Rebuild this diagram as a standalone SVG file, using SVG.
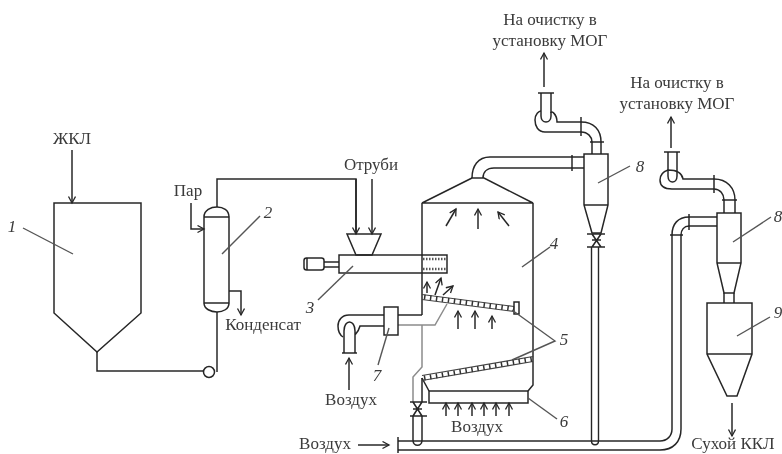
<svg xmlns="http://www.w3.org/2000/svg" width="782" height="454" viewBox="0 0 782 454">
<style>
.l{fill:none;stroke:#262626;stroke-width:1.5;stroke-linejoin:miter}
.g{fill:none;stroke:#8c8c8c;stroke-width:1.5}
.a{fill:none;stroke:#262626;stroke-width:1.5}
.f{fill:none;stroke:#444;stroke-width:1.2}
.m{fill:none;stroke:#555;stroke-width:1.4}
.t{font-family:"Liberation Serif",serif;font-size:17px;fill:#3a3a3a;text-anchor:middle}
.n{font-family:"Liberation Serif",serif;font-size:17px;font-style:italic;fill:#3a3a3a;text-anchor:middle}
.tick{fill:none;stroke:#333;stroke-width:5;stroke-dasharray:1.5 4.5}
</style>
<defs>
<marker id="ah" markerWidth="10" markerHeight="10" refX="7.5" refY="4" orient="auto" markerUnits="userSpaceOnUse"><path d="M1,0.5L7.5,4L1,7.5" fill="none" stroke="#262626" stroke-width="1.3"/></marker>
<filter id="b" x="0" y="0" width="100%" height="100%"><feGaussianBlur stdDeviation="0.55"/></filter>
</defs>
<rect width="782" height="454" fill="#fff"/>
<g filter="url(#b)">
<g id="connectors">
<path class="a" marker-end="url(#ah)" d="M72,150V203"/>
<path class="l" d="M97,352V371H203"/>
<path class="l" d="M217,372V312"/>
<path class="l" d="M217,207V179H356V234"/>
<path class="a" marker-end="url(#ah)" d="M356,179V234"/>
<path class="a" marker-end="url(#ah)" d="M372,179V234"/>
<path class="a" marker-end="url(#ah)" d="M191,203V229H204"/>
<path class="a" marker-end="url(#ah)" d="M229,291H241V315"/>
<path class="a" marker-end="url(#ah)" d="M446,226L456,209"/>
<path class="a" marker-end="url(#ah)" d="M478,229V209"/>
<path class="a" marker-end="url(#ah)" d="M509,226L498,212"/>
<path class="a" marker-end="url(#ah)" d="M427,293V282"/>
<path class="a" marker-end="url(#ah)" d="M435,295L441,278"/>
<path class="a" marker-end="url(#ah)" d="M443,295L453,286"/>
<path class="a" marker-end="url(#ah)" d="M458,329V311"/>
<path class="a" marker-end="url(#ah)" d="M475,329V311"/>
<path class="a" marker-end="url(#ah)" d="M492,329V316"/>
<path class="a" marker-end="url(#ah)" d="M446,416V403"/>
<path class="a" marker-end="url(#ah)" d="M458,416V403"/>
<path class="a" marker-end="url(#ah)" d="M472,416V403"/>
<path class="a" marker-end="url(#ah)" d="M484,416V403"/>
<path class="a" marker-end="url(#ah)" d="M496,416V403"/>
<path class="a" marker-end="url(#ah)" d="M509,416V403"/>
<path class="a" marker-end="url(#ah)" d="M349,390V358"/>
<path class="a" marker-end="url(#ah)" d="M358,445H389"/>
<path class="a" marker-end="url(#ah)" d="M544,87V53"/>
<path class="a" marker-end="url(#ah)" d="M671,148V117"/>
<path class="a" marker-end="url(#ah)" d="M732,403V436"/>
<path class="l" d="M472,178C472,166 478,157 490,157H584M483,178C483,172 487,168 494,168H584"/>
<path class="l" d="M572,155V171"/>
<path class="l" d="M601,142C601,130 594,122 581,122H557C557,114 551,110 551,113M592,142C592,137 588,132 581,132H545C538,132 535,126 535,120C535,114 539,111 541,111"/>
<path class="l" d="M581,117V136M590,142H604M592,142V154M601,142V154"/>
<path class="l" d="M541,93V116C541,124 551,124 551,116V93M538,93H554"/>
<path class="l" d="M591.500,247V441C591.500,446 598.500,446 598.500,441V247" style="stroke-width:1.4"/>
<path class="l" d="M398,441H660C667,441 672,436 672,429V235C672,224 678,217 689,217H717M398,450H660C673,450 681,442 681,429V235C681,230 684,226 689,226H717"/>
<path class="l" d="M398,437V453M670,235H683M689,214V230"/>
<path class="l" d="M735,200C735,188 727,179 714,179H683C682,173 678,170 668,170C662,172 660,176 660,180C660,186 664,189 672,189H714C720,189 724,194 724,200"/>
<path class="l" d="M714,175V193M722,200H737M724,200V213M735,200V213"/>
<path class="l" d="M668,152V176C668,184 677,184 677,176V152M664,152H680"/>
<path class="l" d="M724,293V303M734,293V303"/>
<path class="l" d="M384,315H349C342,315 338,320 338,326C338,331 340,335 343,337"/>
<path class="l" d="M384,326H360C359,330 357,333 355,335M344,353V331C344,319 355,319 355,331V353M342,353H357"/>
<path class="l" d="M398,315H422"/>
<path class="g" d="M398,325H435L447,304M422,325V367L413,377V402"/>
<path class="l" d="M422,378V402M422,416V440C422,447 413,447 413,440V416"/>
<path class="l" d="M410,402H427M410,416H427M413,402L422,416M422,402L413,416M413,409H422"/>
</g>
<g id="node-1"><path class="l" d="M54,203H141V313L97,352L54,313Z"/><path class="m" d="M23,228L73,254"/><text class="n" x="12" y="232">1</text></g>
<g id="node-2"><path class="l" d="M204,217H229V303H204ZM204,217C204,210 211,207 217,207C223,207 229,210 229,217M204,303C204,309 211,312 217,312C223,312 229,309 229,303"/><circle class="l" cx="209" cy="372" r="5.500"/><path class="m" d="M222,254L260,216"/><text class="n" x="268" y="218">2</text></g>
<g id="node-3"><path class="l" d="M347,234H381L372,255H356Z"/><path class="l" d="M339,255H447V273H339Z"/><rect class="l" x="304" y="258" width="20" height="12" rx="2.500"/><path class="l" d="M324,262H339M324,267H339M307,258V270"/><path d="M423,259H447M423,269H447" fill="none" stroke="#555" stroke-width="2.500" stroke-dasharray="1.500 1.500"/><path class="m" d="M318,300L353,266"/><text class="n" x="310" y="313">3</text></g>
<g id="node-4"><path class="l" d="M472,178L422,203H533L484,178H472ZM422,203V315M533,203V385L528,391M422,378L429,391"/><path class="m" d="M522,267L550,247"/><text class="n" x="554" y="249">4</text></g>
<g id="node-5">
<path class="f" d="M422,294.500L514,306.500M422,299.500L514,311.500"/><path class="tick" d="M424,297L514,309"/>
<rect class="l" x="514" y="302" width="5" height="12"/>
<path class="f" d="M422,375.500L533,356.500M422,380.500L533,361.500"/><path class="tick" d="M424,378L533,359"/>
<path class="m" d="M512,310L555,341L512,360"/><text class="n" x="564" y="345">5</text></g>
<g id="node-6"><rect class="l" x="429" y="391" width="99" height="12"/><path class="m" d="M528,398L557,419"/><text class="n" x="564" y="427">6</text></g>
<g id="node-7"><rect class="l" x="384" y="307" width="14" height="28"/><path class="m" d="M389,328L378,365"/><text class="n" x="377" y="381">7</text></g>
<g id="node-8a"><path class="l" d="M584,154H608V205L601,233H592L584,205ZM584,205H608"/><path class="l" d="M587,234H605M587,247H605M592,234L601,247M601,234L592,247M592,240H601"/><path class="m" d="M598,183L630,166"/><text class="n" x="640" y="172">8</text></g>
<g id="node-8b"><path class="l" d="M717,213H741V263L734,293H724L717,263ZM717,263H741"/><path class="m" d="M733,242L771,217"/><text class="n" x="778" y="222">8</text></g>
<g id="node-9"><path class="l" d="M707,303H752V354L737,396H727L707,354ZM707,354H752"/><path class="m" d="M737,336L770,317"/><text class="n" x="778" y="318">9</text></g>
<g id="labels">
<text class="t" x="72" y="144">ЖКЛ</text>
<text class="t" x="188" y="196">Пар</text>
<text class="t" x="263" y="330">Конденсат</text>
<text class="t" x="371" y="170">Отруби</text>
<text class="t" x="351" y="405">Воздух</text>
<text class="t" x="477" y="432">Воздух</text>
<text class="t" x="325" y="449">Воздух</text>
<text class="t" x="733" y="449">Сухой ККЛ</text>
<text class="t" x="550" y="25">На очистку в</text>
<text class="t" x="550" y="46">установку МОГ</text>
<text class="t" x="677" y="88">На очистку в</text>
<text class="t" x="677" y="109">установку МОГ</text>
</g>
</g>
</svg>
